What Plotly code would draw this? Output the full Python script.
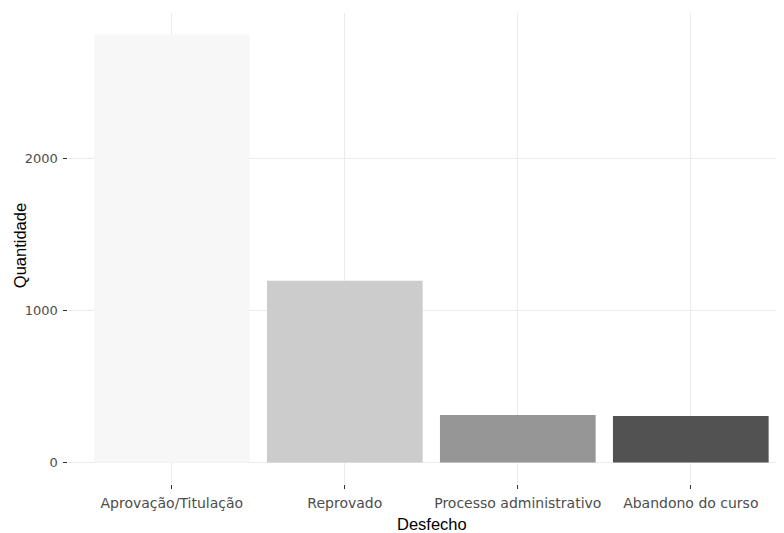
import plotly.graph_objects as go

categorias = ["Aprovação/Titulação", "Reprovado", "Processo administrativo", "Abandono do curso"]
quantidade = [2813, 1195, 313, 306]
cores = ["#F7F7F7", "#CCCCCC", "#969696", "#525252"]
y_ticks = [0, 1000, 2000]
y_tick_labels = ["0", "1000", "2000"]

tick_font = "DejaVu Sans"
title_font = "Liberation Sans"

fig = go.Figure()
fig.add_trace(go.Bar(
    x=categorias, y=quantidade, width=0.9,
    marker=dict(color=cores, line=dict(width=0)),
    showlegend=False,
))

fig.update_layout(
    width=784, height=533,
    margin=dict(l=60, r=0, t=4.5, b=56.6),
    paper_bgcolor="white", plot_bgcolor="white",
    xaxis=dict(
        type="category", range=[-0.6, 3.585],
        showgrid=True, gridcolor="rgba(235,235,235,1)", gridwidth=1,
        zeroline=False, showline=False,
        ticks="outside", ticklen=3.65, tickwidth=0.66, tickcolor="rgba(51,51,51,1)",
        tickfont=dict(size=14, color="rgba(77,77,77,1)", family=tick_font),
        ticklabelstandoff=3,
    ),
    yaxis=dict(
        range=[-140.6, 2954],
        tickvals=y_ticks, ticktext=y_tick_labels,
        showgrid=True, gridcolor="rgba(235,235,235,1)", gridwidth=1,
        zeroline=False, showline=False,
        ticks="outside", ticklen=3.65, tickwidth=0.66, tickcolor="rgba(51,51,51,1)",
        tickfont=dict(size=13, color="rgba(77,77,77,1)", family=tick_font),
        ticklabelstandoff=3,
    ),
    annotations=[
        dict(text="Desfecho", xref="paper", yref="paper", x=0.5028, y=-0.084,
             xanchor="center", yanchor="middle", showarrow=False,
             font=dict(size=16.5, color="black", family=title_font)),
        dict(text="Quantidade", xref="paper", yref="paper", x=-0.0663, y=0.507,
             xanchor="center", yanchor="middle", showarrow=False, textangle=-90,
             font=dict(size=16.5, color="black", family=title_font)),
    ],
)
fig.write_html("out.html")
